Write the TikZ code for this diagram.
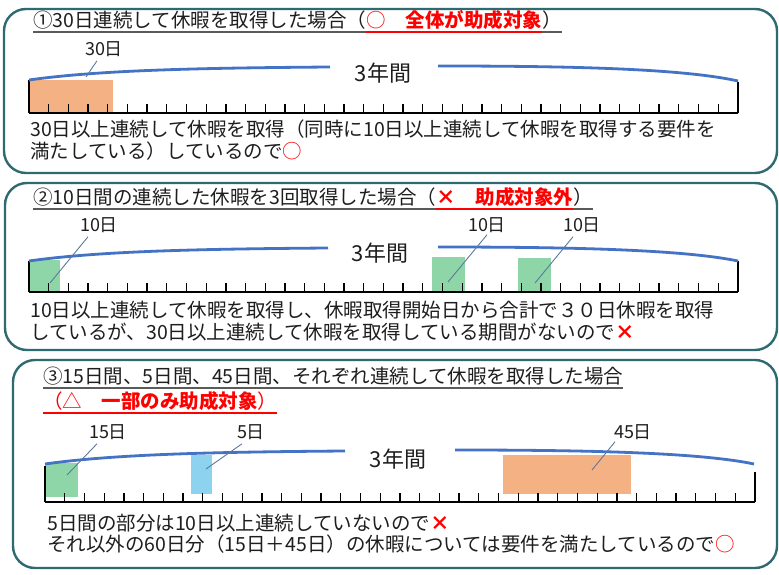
\documentclass[tikz,border=0pt]{standalone}
\usepackage{fontspec}
\setmainfont{Noto Sans CJK JP}
\usepackage{tikz}
\usetikzlibrary{calc}
\definecolor{frameteal}{HTML}{2F6A70}
\definecolor{yrblue}{HTML}{4472C4}
\definecolor{leadc}{HTML}{5B7A9E}
\definecolor{holorange}{HTML}{F4B183}
\definecolor{holgreen}{HTML}{8ED6A8}
\definecolor{holblue}{HTML}{8DD3F0}
\definecolor{redmark}{HTML}{FF0000}
\definecolor{ink}{HTML}{1E1E1E}
\definecolor{ulgray}{HTML}{5A5A5A}

\begin{document}
\begin{tikzpicture}[x=1pt, y=-1pt,
  panel/.style={draw=frameteal, line width=2.4pt, rounded corners=22pt},
  ttl/.style={inner sep=0pt, anchor=base west, text=ink, font=\fontsize{19.5}{22}\selectfont},
  lbl/.style={inner sep=1pt, text=ink, font=\fontsize{18}{20}\selectfont},
  yrs/.style={inner sep=0pt, text=ink, font=\fontsize{22}{24}\selectfont},
  yearline/.style={draw=yrblue, line width=2.8pt},
  axisline/.style={draw=black, line width=1.8pt},
  tickmark/.style={draw=black, line width=1.3pt},
  leader/.style={draw=leadc, line width=0.9pt},
  uline/.style={draw=ulgray, line width=1.3pt},
  redline/.style={draw=redmark, line width=1.3pt}]
	%%%%% START %%%%%
	\fill[white] (0,0) rectangle (779,575);
	\useasboundingbox (0,0) rectangle (779,575);

	% panel 1: 30 days in a row
	\draw[panel] (4,9) rectangle (777,173);
	\node[ttl] (t1) at (33,27.5) {①30日連続して休暇を取得した場合（};
	\node[ttl, text=redmark] (t1r) at (t1.base east) {○　\textbf{全体が助成対象}};
	\node[ttl] (t1e) at (t1r.base east) {）};
	\draw[uline] ($(t1.base west)+(0,4.5)$) -- ($(t1e.base east)+(0,4.5)$);
	\draw[redline] ($(t1r.base west)+(0,4.5)$) -- ($(t1r.base east)+(0,4.5)$);

	\fill[holorange] (29,80) rectangle (113,113);
	\draw[axisline] (29,113) -- (738,113);
	\foreach \i in {1,...,35}
		\draw[tickmark] ({29+\i*19.69},113) -- ++(0,-9);
	\draw[tickmark] (29,113) -- (29,80);
	\draw[tickmark] (738,113) -- (738,82);
	\draw[yearline] (29,80) .. controls (100,70) and (200,68) .. (330,67);
	\draw[yearline] (438,66) .. controls (560,66) and (680,68) .. (738,81);
	\node[yrs] (y1) at (383,73) {3年間};
	\node[lbl] (l30) at (104,49) {30日};
	\coordinate (p30) at (86,77);
	\draw[leader] ($(l30.south)+(-7,3)$) -- (p30);

	\node[ttl] (b1a) at (30,136) {30日以上連続して休暇を取得（同時に10日以上連続して休暇を取得する要件を};
	\node[ttl] (b1b) at (30,158) {満たしている）しているので{\color{redmark}○}};

	% panel 2: three times 10 days
	\draw[panel] (5,183) rectangle (777,350);
	\node[ttl] (t2) at (33,204.5) {②10日間の連続した休暇を3回取得した場合（};
	\node[ttl, text=redmark] (t2r) at (t2.base east) {\textbf{×　助成対象外}};
	\node[ttl] (t2e) at (t2r.base east) {）};
	\draw[uline] ($(t2.base west)+(0,4.5)$) -- ($(t2e.base east)+(0,4.5)$);
	\draw[redline] ($(t2r.base west)+(0,4.5)$) -- ($(t2r.base east)+(0,4.5)$);

	\fill[holgreen] (29,260) rectangle (60,292);
	\fill[holgreen] (432,257) rectangle (465,292);
	\fill[holgreen] (518,258) rectangle (551,292);
	\draw[axisline] (29,292) -- (738,292);
	\foreach \i in {1,...,35}
		\draw[tickmark] ({29+\i*19.69},292) -- ++(0,-9);
	\draw[tickmark] (29,292) -- (29,261);
	\draw[tickmark] (738,292) -- (738,261);
	\draw[yearline] (29,261) .. controls (100,251) and (200,249) .. (328,248);
	\draw[yearline] (438,247) .. controls (560,247) and (680,249) .. (738,261);
	\node[yrs] (y2) at (380,253) {3年間};
	\node[lbl] (l10a) at (99,225) {10日};
	\node[lbl] (l10b) at (487,225) {10日};
	\node[lbl] (l10c) at (582,225) {10日};
	\coordinate (p10a) at (50,283);
	\coordinate (p10b) at (448,282);
	\coordinate (p10c) at (535,283);
	\draw[leader] ($(l10a.south)+(-11,3)$) -- (p10a);
	\draw[leader] ($(l10b.south)+(0,1)$) -- (p10b);
	\draw[leader] ($(l10c.south)+(-9,3)$) -- (p10c);

	\node[ttl] (b2a) at (30,317) {10日以上連続して休暇を取得し、休暇取得開始日から合計で３０日休暇を取得};
	\node[ttl] (b2b) at (30,339) {しているが、30日以上連続して休暇を取得している期間がないので{\color{redmark}\textbf{×}}};

	% panel 3: 15, 5 and 45 days
	\draw[panel] (13,360) rectangle (777,568);
	\node[ttl] (t3) at (43,383.5) {③15日間、5日間、45日間、それぞれ連続して休暇を取得した場合};
	\draw[uline] ($(t3.base west)+(0,4.5)$) -- ($(t3.base east)+(0,4.5)$);
	\node[ttl, text=redmark] (t3r) at (43,408.5) {（△　\textbf{一部のみ助成対象}）};
	\draw[redline] ($(t3r.base west)+(0,4.5)$) -- ($(t3r.base east)+(0,4.5)$);

	\fill[holgreen] (45,463) rectangle (78,497);
	\fill[holblue] (191,455) rectangle (212,494);
	\fill[holorange] (503,455) rectangle (631,494);
	\draw[axisline] (45,502) -- (755,502);
	\foreach \i in {1,...,35}
		\draw[tickmark] ({45+\i*19.72},502) -- ++(0,-9);
	\draw[tickmark] (45,502) -- (45,466);
	\draw[tickmark] (755,502) -- (755,472);
	\draw[yearline] (45,464) .. controls (116,454) and (216,452) .. (345,451);
	\draw[yearline] (455,450) .. controls (577,450) and (697,452) .. (754,464);
	\node[yrs] (y3) at (398,459) {3年間};
	\node[lbl] (l15) at (108,432) {15日};
	\node[lbl] (l5) at (251,432) {5日};
	\node[lbl] (l45) at (633,432) {45日};
	\coordinate (p15) at (67,475);
	\coordinate (p5) at (206,469);
	\coordinate (p45) at (592,470);
	\draw[leader] ($(l15.south)+(-11,3)$) -- (p15);
	\draw[leader] ($(l5.south)+(-9,3)$) -- (p5);
	\draw[leader] ($(l45.south)+(-18,1)$) -- (p45);

	\node[ttl] (b3a) at (47,530) {5日間の部分は10日以上連続していないので{\color{redmark}\textbf{×}}};
	\node[ttl] (b3b) at (47,551) {それ以外の60日分（15日＋45日）の休暇については要件を満たしているので{\color{redmark}○}};
	%%%%% END %%%%%
\end{tikzpicture}
\end{document}
